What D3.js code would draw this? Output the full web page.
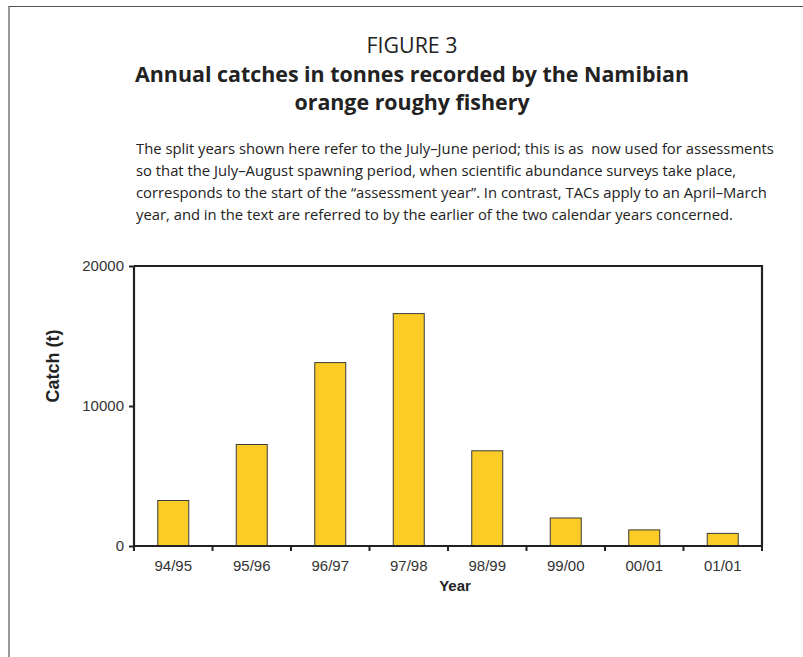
<!DOCTYPE html>
<html>
<head>
<meta charset="utf-8">
<script src="https://cdn.jsdelivr.net/npm/d3@7"></script>
<style>
  html, body { margin: 0; padding: 0; background: #fff; }
  svg { display: block; }
  text.note { white-space: pre; }
</style>
</head>
<body>
<script>
// ---- Data ----
const years = ["94/95", "95/96", "96/97", "97/98", "98/99", "99/00", "00/01", "01/01"];
const catches = [3250, 7250, 13100, 16600, 6800, 2000, 1150, 900];
const yTicks = [0, 10000, 20000];

const figureLabel = "FIGURE 3";
const titleLines = ["Annual catches in tonnes recorded by the Namibian", "orange roughy fishery"];
const noteLines = [
  "The split years shown here refer to the July\u2013June period; this is as  now used for assessments",
  "so that the July\u2013August spawning period, when scientific abundance surveys take place,",
  "corresponds to the start of the \u201Cassessment year\u201D. In contrast, TACs apply to an April\u2013March",
  "year, and in the text are referred to by the earlier of the two calendar years concerned."
];
const yLabel = "Catch (t)";
const xLabel = "Year";

// ---- Layout ----
const W = 803, H = 657;
const plot = { left: 134, right: 762, top: 266, bottom: 546 };

const svg = d3.select("body").append("svg").attr("width", W).attr("height", H);

// outer frame (top + left)
svg.append("path")
  .attr("d", `M9,${H} L9,6.5 L${W},6.5`)
  .attr("fill", "none").attr("stroke", "#555").attr("stroke-width", 1.2);

const textFont = "'Open Sans', 'Noto Sans', sans-serif";

svg.append("text")
  .attr("x", 412).attr("y", 53)
  .attr("text-anchor", "middle")
  .attr("font-family", textFont).attr("font-size", 21.4)
  .attr("fill", "#222")
  .text(figureLabel);

svg.selectAll("text.title").data(titleLines).join("text")
  .attr("class", "title")
  .attr("x", 412).attr("y", (d, i) => 82 + i * 28)
  .attr("text-anchor", "middle")
  .attr("font-family", textFont).attr("font-size", 21.4).attr("font-weight", "bold")
  .attr("fill", "#222")
  .text(d => d);

svg.selectAll("text.note").data(noteLines).join("text")
  .attr("class", "note")
  .attr("x", 136).attr("y", (d, i) => 154 + i * 22)
  .attr("font-family", textFont).attr("font-size", 14.8)
  .attr("fill", "#222")
  .text(d => d);

// ---- Scales ----
const xb = d3.scaleBand().domain(years).range([plot.left, plot.right]);
const y = d3.scaleLinear().domain([0, 20000]).range([plot.bottom, plot.top]);

// bars
const bw = 31;
svg.selectAll("rect.bar").data(catches).join("rect")
  .attr("class", "bar")
  .attr("x", (d, i) => xb(years[i]) + xb.bandwidth() / 2 - bw / 2)
  .attr("y", d => y(d))
  .attr("width", bw)
  .attr("height", d => y(0) - y(d))
  .attr("fill", "#FBCC26")
  .attr("stroke", "#3a3a3a").attr("stroke-width", 1);

// plot frame top + right
svg.append("path")
  .attr("d", `M${plot.left},${plot.top} L${plot.right},${plot.top} L${plot.right},${plot.bottom}`)
  .attr("fill", "none").attr("stroke", "#222").attr("stroke-width", 2.2);

const axisFont = "'Liberation Sans', Arial, sans-serif";

// y axis
const yAxis = svg.append("g").attr("transform", `translate(${plot.left},0)`)
  .call(d3.axisLeft(y).tickValues(yTicks).tickFormat(d3.format("d")).tickSize(5).tickPadding(5));
yAxis.select(".domain").attr("stroke", "#222").attr("stroke-width", 2.2).attr("d", `M0,${plot.top}V${plot.bottom}`);
yAxis.selectAll(".tick line").attr("stroke", "#222").attr("stroke-width", 2);
yAxis.selectAll(".tick text").attr("font-family", axisFont).attr("font-size", 15).attr("fill", "#333");

// x axis: ticks at band boundaries
const xAxis = svg.append("g").attr("transform", `translate(0,${plot.bottom})`);
xAxis.append("line")
  .attr("x1", plot.left).attr("x2", plot.right)
  .attr("stroke", "#222").attr("stroke-width", 2.2);
const boundaries = years.map(d => xb(d)).concat([plot.right]);
xAxis.selectAll("line.tk").data(boundaries).join("line")
  .attr("class", "tk")
  .attr("x1", d => d).attr("x2", d => d)
  .attr("y1", 0).attr("y2", 5)
  .attr("stroke", "#222").attr("stroke-width", 2);
xAxis.selectAll("text.xl").data(years).join("text")
  .attr("class", "xl")
  .attr("x", d => xb(d) + xb.bandwidth() / 2)
  .attr("y", 25)
  .attr("text-anchor", "middle")
  .attr("font-family", axisFont).attr("font-size", 15).attr("fill", "#333")
  .text(d => d);

// axis titles
svg.append("text")
  .attr("x", 455).attr("y", 591)
  .attr("text-anchor", "middle")
  .attr("font-family", axisFont).attr("font-size", 15).attr("font-weight", "bold").attr("fill", "#222")
  .text(xLabel);

svg.append("text")
  .attr("transform", "translate(59,366) rotate(-90)")
  .attr("text-anchor", "middle")
  .attr("font-family", axisFont).attr("font-size", 18).attr("font-weight", "bold").attr("fill", "#222")
  .text(yLabel);
</script>
</body>
</html>
